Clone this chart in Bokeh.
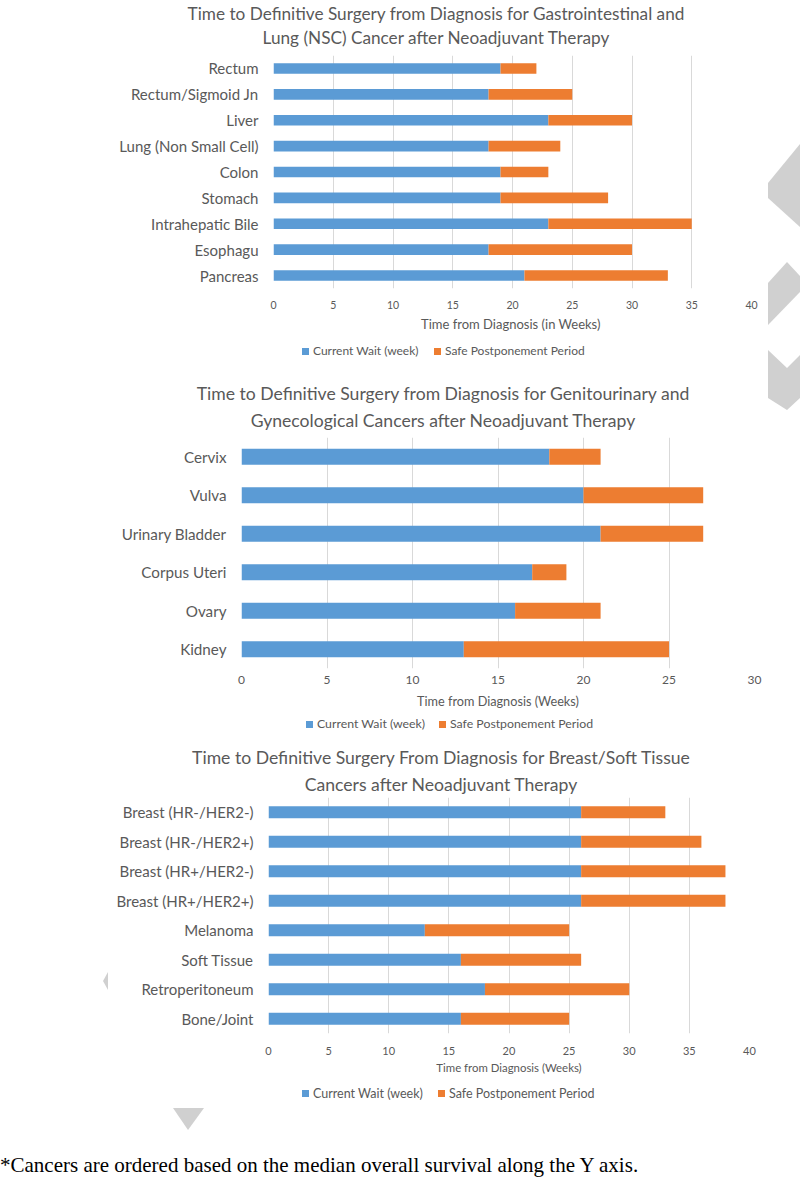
from bokeh.plotting import figure
from bokeh.models import (FactorRange, Range1d, SingleIntervalTicker,
                          ColumnDataSource, Div)
from bokeh.layouts import column
from bokeh.embed import file_html
from bokeh.resources import INLINE

BLUE = "#5B9BD5"
ORANGE = "#ED7D31"
GRAY = "#595959"
FONT = "Lato"

series_labels = ["Current Wait (week)", "Safe Postponement Period"]

# Chart 1: Gastrointestinal and Lung (NSC)
gi_cancers = ["Rectum", "Rectum/Sigmoid Jn", "Liver", "Lung (Non Small Cell)", "Colon",
              "Stomach", "Intrahepatic Bile", "Esophagu", "Pancreas"]
gi_current_wait = [19, 18, 23, 18, 19, 19, 23, 18, 21]
gi_safe_postponement = [3, 7, 7, 6, 4, 9, 12, 12, 12]

# Chart 2: Genitourinary and Gynecological
gu_cancers = ["Cervix", "Vulva", "Urinary Bladder", "Corpus Uteri", "Ovary", "Kidney"]
gu_current_wait = [18, 20, 21, 17, 16, 13]
gu_safe_postponement = [3, 7, 6, 2, 5, 12]

# Chart 3: Breast / Soft Tissue
bs_cancers = ["Breast (HR-/HER2-)", "Breast (HR-/HER2+)", "Breast (HR+/HER2-)",
              "Breast (HR+/HER2+)", "Melanoma", "Soft Tissue", "Retroperitoneum", "Bone/Joint"]
bs_current_wait = [26, 26, 26, 26, 13, 16, 18, 16]
bs_safe_postponement = [7, 10, 12, 12, 12, 10, 12, 9]

x_max_values = [40, 30, 40]
x_titles = ["Time from Diagnosis  (in Weeks)", "Time from Diagnosis (Weeks)",
            "Time from Diagnosis (Weeks)"]
titles = [
    ["Time to Definitive Surgery from Diagnosis for Gastrointestinal and",
     "Lung (NSC) Cancer after Neoadjuvant Therapy"],
    ["Time to Definitive Surgery from Diagnosis for Genitourinary and",
     "Gynecological Cancers after Neoadjuvant Therapy"],
    ["Time to Definitive Surgery From Diagnosis for Breast/Soft Tissue",
     "Cancers after Neoadjuvant Therapy"],
]
footnote = "*Cancers are ordered based on the median overall survival along the Y axis."

W = 792

# decorative page-background shapes (grey chevrons) seen in the source image
DECOR = [
    "800,144 768,183 768,198 800,227",
    "787,262 800,276 800,292 768,325 768,283",
    "768,350 787,368 800,355 800,398 787,410 768,398",
    "108,972 103,981 108,990",
    "173,1108 204,1108 188,1130",
]


def decor_svg():
    polys = "".join(f'<polygon points="{pts}" fill="#D0D0D0"/>' for pts in DECOR)
    return ('<svg width="800" height="1190" style="position:absolute;left:0;top:0;'
            'overflow:visible;pointer-events:none;">' + polys + '</svg>')


def title_div(lines, height, size, lh, dx, dy, extra=""):
    html = (extra + f'<div style="position:relative;left:{dx}px;top:{dy}px;width:{W}px;'
            f'text-align:center;font-family:{FONT};font-size:{size}px;line-height:{lh}px;'
            f'color:{GRAY};white-space:nowrap;">' + "<br>".join(lines) + "</div>")
    return Div(text=html, width=W, height=height, margin=(0, 0, 0, 0),
               styles={"overflow": "visible"})


def legend_div(height, cy, x_blue, x_orange, size):
    sq = 7
    html = (f'<div style="position:relative;width:{W}px;height:{height}px;'
            f'font-family:{FONT};font-size:{size}px;color:{GRAY};">')
    for x, col, lab in [(x_blue, BLUE, series_labels[0]), (x_orange, ORANGE, series_labels[1])]:
        html += (f'<div style="position:absolute;left:{x}px;top:{cy - sq / 2}px;'
                 f'width:{sq}px;height:{sq}px;background:{col};"></div>')
        html += (f'<div style="position:absolute;left:{x + sq + 4}px;top:{cy - size * 0.6}px;'
                 f'line-height:{size * 1.2}px;white-space:nowrap;">{lab}</div>')
    html += "</div>"
    return Div(text=html, width=W, height=height, margin=(0, 0, 0, 0))


def make_chart(cats, wait, safe, xmax, xtitle, left, right, frame_h, bottom,
               cat_size, tick_size, xt_size, tick_standoff, xt_standoff):
    src = ColumnDataSource(dict(cat=cats, wait=wait, safe=safe))
    p = figure(width=W, height=frame_h + bottom,
               y_range=FactorRange(*list(reversed(cats))),
               x_range=Range1d(0, xmax),
               output_backend="svg", toolbar_location=None,
               min_border_left=left, min_border_right=W - right,
               min_border_top=0, min_border_bottom=bottom)
    p.frame_align = False
    p.border_fill_color = None
    p.background_fill_color = None
    p.hbar_stack(["wait", "safe"], y="cat", height=0.41, color=[BLUE, ORANGE],
                 line_color=None, source=src)
    p.outline_line_color = None
    p.ygrid.grid_line_color = None
    p.xaxis.ticker = SingleIntervalTicker(interval=5)
    p.xgrid.grid_line_color = "#D9D9D9"
    p.xgrid.grid_line_width = 1
    for ax in (p.xaxis[0], p.yaxis[0]):
        ax.axis_line_color = None
        ax.major_tick_line_color = None
        ax.minor_tick_line_color = None
        ax.major_tick_out = 0
        ax.major_tick_in = 0
        ax.major_label_text_color = GRAY
        ax.major_label_text_font = FONT
    p.yaxis.major_label_text_font_size = f"{cat_size}px"
    p.yaxis.major_label_standoff = 15
    p.xaxis.major_label_text_font_size = f"{tick_size}px"
    p.xaxis.major_label_standoff = tick_standoff
    p.xaxis.axis_label = xtitle
    p.xaxis.axis_label_text_font = FONT
    p.xaxis.axis_label_text_font_style = "normal"
    p.xaxis.axis_label_text_font_size = f"{xt_size}px"
    p.xaxis.axis_label_text_color = GRAY
    p.xaxis.axis_label_standoff = xt_standoff
    return p


d1 = title_div(titles[0], 55, 17.2, 24, 40, 2, extra=decor_svg())
p1 = make_chart(gi_cancers, gi_current_wait, gi_safe_postponement, x_max_values[0], x_titles[0],
                273, 751, 237, 42, 15, 10.5, 13, 8, 4)
l1 = legend_div(46, 17, 302, 434, 12)
d2 = title_div(titles[1], 57, 17.6, 27, 47, 0)
p2 = make_chart(gu_cancers, gu_current_wait, gu_safe_postponement, x_max_values[1], x_titles[1],
                241, 754, 232, 42, 15.2, 12, 12.7, 3, 6)
l2 = legend_div(31, 13, 306, 439, 12.3)
d3 = title_div(titles[2], 55, 17.6, 27, 45, 2)
p3 = make_chart(bs_cancers, bs_current_wait, bs_safe_postponement, x_max_values[2], x_titles[2],
                268, 749, 239, 40, 15, 11, 11.4, 9, 3)
l3 = legend_div(64, 17, 302, 438, 12.5)
foot = Div(text=(f'<div style="position:relative;top:13px;font-family:\'Liberation Serif\';'
                 f'font-size:21px;line-height:24px;color:#000;white-space:nowrap;">{footnote}</div>'),
           width=W, height=42, margin=(0, 0, 0, 0))

layout = column(d1, p1, l1, d2, p2, l2, d3, p3, l3, foot, spacing=0)
open("out.html", "w").write(file_html(layout, INLINE))
